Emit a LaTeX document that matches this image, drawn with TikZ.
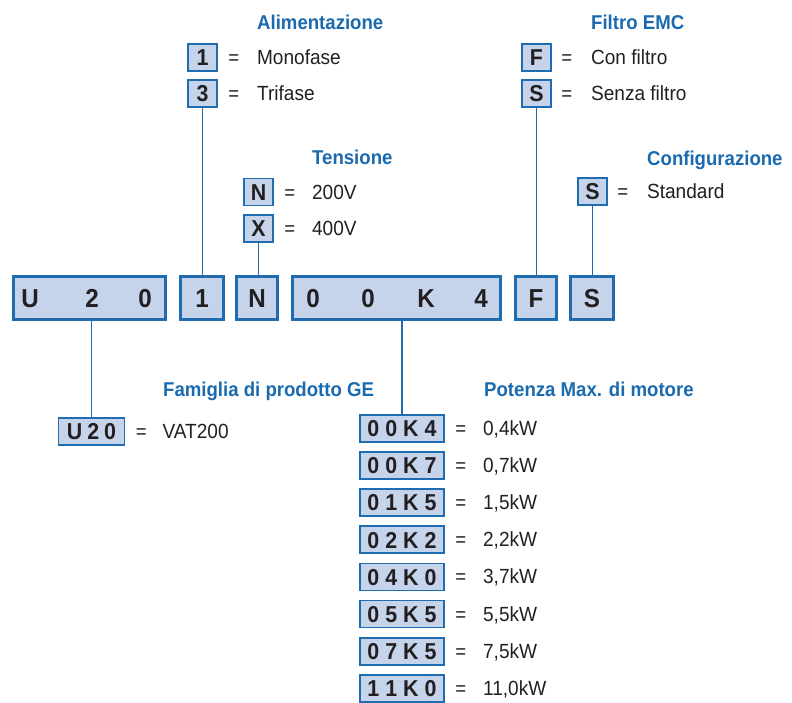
\documentclass[tikz,border=0pt]{standalone}
\usepackage{fontspec}
\setmainfont{Liberation Sans}[FakeStretch=0.93]
\usepackage{xcolor}
\usetikzlibrary{positioning}
\definecolor{codeblue}{HTML}{1F6DB0}
\definecolor{codefill}{HTML}{C5D4EB}
\definecolor{headblue}{HTML}{1A6AAF}
\definecolor{ink}{HTML}{231F20}

\begin{document}
\begin{tikzpicture}[x=1pt,y=-1pt]
    \tikzset{mainbox/.style = {draw=codeblue, line width=3pt, fill=codefill, minimum height=43pt, inner sep=0pt}}
    \tikzset{keybox/.style = {draw=codeblue, line width=1.8pt, fill=codefill, minimum height=27pt, minimum width=29pt, inner sep=0pt, text height=16.5pt, text depth=0pt, text=ink, font=\fontsize{23}{23}\selectfont\bfseries}}
    \tikzset{letter/.style = {inner sep=0pt, text height=19pt, text depth=0pt, text=ink, font=\fontsize{26}{26}\selectfont\bfseries}}
    \tikzset{eq/.style = {inner sep=0pt, text height=14pt, text depth=0pt, text=ink, font=\fontsize{20}{20}\selectfont}}
    \tikzset{val/.style = {anchor=west, inner sep=0pt, text height=14pt, text depth=0pt, text=ink, font=\fontsize{20.5}{20}\selectfont}}
    \tikzset{head/.style = {anchor=west, inner sep=0pt, text height=14pt, text depth=0pt, text=headblue, font=\fontsize{20}{20}\selectfont\bfseries}}
    \tikzset{link/.style = {draw=codeblue, line width=1.5pt}}
    \useasboundingbox (0,0) rectangle (792,702);
    % code bar
    \node[mainbox, minimum width=152pt] (mU) at (89.5,298) {};
    \node[mainbox, minimum width=43pt] (m1) at (202,298) {};
    \node[mainbox, minimum width=41pt] (mN) at (257,298) {};
    \node[mainbox, minimum width=208pt] (mP) at (396.5,298) {};
    \node[mainbox, minimum width=41pt] (mF) at (536,298) {};
    \node[mainbox, minimum width=43pt] (mS) at (592,298) {};
    \foreach \ch/\x [count=\i] in {U/30,2/92,0/145,1/202,N/257,0/313,0/368,K/426,4/481,F/536,S/592}
        \node[letter] (c\i) at (\x,298) {\ch};
    % Alimentazione
    \node[head] (tA) at (257,22) {Alimentazione};
    \node[keybox] (k1) at (202.5,57.5) {1};
    \node[keybox] (k3) at (202.5,93.5) {3};
    \node[eq] (e1) at ([xshift=16pt]k1.east) {=};
    \node[val] (v1) at ([xshift=39pt]k1.east) {Monofase};
    \node[eq] (e3) at ([xshift=16pt]k3.east) {=};
    \node[val] (v3) at ([xshift=39pt]k3.east) {Trifase};
    % Tensione
    \node[head] (tT) at (312,157) {Tensione};
    \node[keybox] (kN) at (258.5,192) {N};
    \node[keybox] (kX) at (258.5,228.5) {X};
    \node[eq] (eN) at ([xshift=16pt]kN.east) {=};
    \node[val] (vN) at ([xshift=38pt]kN.east) {200V};
    \node[eq] (eX) at ([xshift=16pt]kX.east) {=};
    \node[val] (vX) at ([xshift=38pt]kX.east) {400V};
    % Filtro EMC
    \node[head] (tF) at (591,22) {Filtro EMC};
    \node[keybox] (kF) at (536.5,57.5) {F};
    \node[keybox] (kS) at (536.5,93.5) {S};
    \node[eq] (eF) at ([xshift=15pt]kF.east) {=};
    \node[val] (vF) at ([xshift=39pt]kF.east) {Con filtro};
    \node[eq] (eS) at ([xshift=15pt]kS.east) {=};
    \node[val] (vS) at ([xshift=39pt]kS.east) {Senza filtro};
    % Configurazione
    \node[head] (tC) at (647,158) {Configurazione};
    \node[keybox] (kC) at (592.5,191.5) {S};
    \node[eq] (eC) at ([xshift=15pt]kC.east) {=};
    \node[val] (vC) at ([xshift=39pt]kC.east) {Standard};
    % Famiglia di prodotto
    \node[head] (tG) at (163,389) {Famiglia di prodotto GE};
    \node[keybox, minimum width=66pt] (kU) at (91.5,431.5) {U\hspace{5pt}2\hspace{5pt}0};
    \node[eq] (eU) at ([xshift=16pt]kU.east) {=};
    \node[val] (vU) at ([xshift=37pt]kU.east) {VAT200};
    % Potenza
    \node[head] (tP) at (484,389) {Potenza Max. di motore};
    \foreach \a/\b/\c/\d/\kw [count=\i from 0] in {0/0/K/4/{0,4kW}, 0/0/K/7/{0,7kW}, 0/1/K/5/{1,5kW}, 0/2/K/2/{2,2kW},
        0/4/K/0/{3,7kW}, 0/5/K/5/{5,5kW}, 0/7/K/5/{7,5kW}, 1/1/K/0/{11,0kW}} {
        \node[keybox, minimum width=84pt] (p\i) at (402,{428.5+37.1*\i}) {\a\hspace{6pt}\b\hspace{6pt}\c\hspace{6pt}\d};
        \node[eq] (pe\i) at ([xshift=16pt]p\i.east) {=};
        \node[val] (pv\i) at ([xshift=38pt]p\i.east) {\kw};
    }
    % links
    \draw[link] (k3.south) -- (k3.south |- m1.north);
    \draw[link] (kX.south) -- (kX.south |- mN.north);
    \draw[link] (kS.south) -- (kS.south |- mF.north);
    \draw[link] (kC.south) -- (kC.south |- mS.north);
    \draw[link] (kU.north) -- (kU.north |- mU.south);
    \draw[link] (p0.north) -- (p0.north |- mP.south);
\end{tikzpicture}
\end{document}
